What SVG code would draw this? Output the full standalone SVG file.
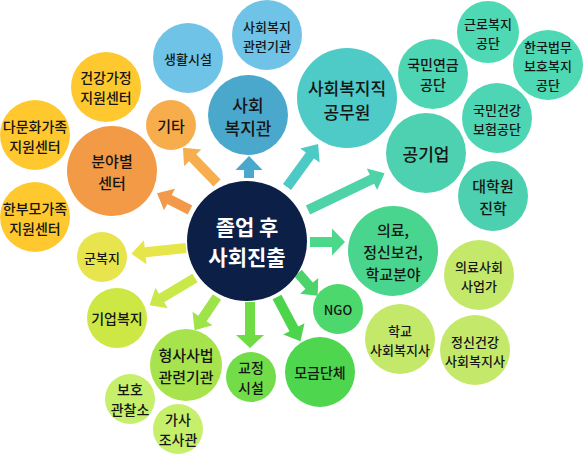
<svg xmlns="http://www.w3.org/2000/svg" width="584" height="454" viewBox="0 0 584 454">
<style>
text{font-family:"Noto Sans CJK KR","Noto Sans",sans-serif;font-weight:500;fill:#151515;text-anchor:middle;dominant-baseline:central}
.s13{font-size:13px}.s14{font-size:14px}.s15{font-size:15px}.s17{font-size:17px}
.c{font-size:21px;font-weight:bold;fill:#ffffff}
</style>
<rect width="584" height="454" fill="#ffffff"/>
<g id="connectors">
<path d="M0,-5H35V-12L49,0L35,12V5H0Z" fill="#f6ae4e" transform="translate(217,183) rotate(-134)"/>
<path d="M0,-5H23V-12L37,0L23,12V5H0Z" fill="#f29a4a" transform="translate(190,210) rotate(-153)"/>
<path d="M0,-5H8V-13.5L22,0L8,13.5V5H0Z" fill="#4aa8cc" transform="translate(249,178) rotate(-90)"/>
<path d="M0,-5H39V-12L53,0L39,12V5H0Z" fill="#4ecac6" transform="translate(287,187) rotate(-54)"/>
<path d="M0,-5H71V-12L85,0L71,12V5H0Z" fill="#4ed3a8" transform="translate(308,210) rotate(-25.7)"/>
<path d="M0,-5H22V-13.5L35,0L22,13.5V5H0Z" fill="#4cd88a" transform="translate(310,242)"/>
<path d="M0,-5H17V-12L30,0L17,12V5H0Z" fill="#4cd46a" transform="translate(298,273) rotate(49)"/>
<path d="M0,-5H36V-12L50,0L36,12V5H0Z" fill="#4cd44c" transform="translate(277,297) rotate(62)"/>
<path d="M0,-5H33V-14L46,0L33,14V5H0Z" fill="#6fdc44" transform="translate(250,302) rotate(90)"/>
<path d="M0,-5H26V-12L40,0L26,12V5H0Z" fill="#9ee34a" transform="translate(217,297) rotate(124)"/>
<path d="M0,-5H39V-12L53,0L39,12V5H0Z" fill="#c9e84a" transform="translate(195,278) rotate(149)"/>
<path d="M0,-5H41V-12L55,0L41,12V5H0Z" fill="#e6e54a" transform="translate(186,248) rotate(174)"/>
</g>
<g id="center"><circle cx="247" cy="241" r="60" fill="#0c1f46"/><text class="c" x="247" y="226">졸업 후</text><text class="c" x="247" y="256">사회진출</text></g>
<g id="n-saenghwal"><circle cx="188" cy="58" r="35" fill="#6ec3e6"/><text class="s13" x="188" y="58">생활시설</text></g>
<g id="n-gwallyeon"><circle cx="267" cy="35" r="35" fill="#6ec3e6"/><text class="s13" x="267" y="26">사회복지</text><text class="s13" x="267" y="45">관련기관</text></g>
<g id="n-bokjigwan"><circle cx="248" cy="115" r="40" fill="#4aa8cc"/><text class="s17" x="248" y="104">사회</text><text class="s17" x="248" y="127">복지관</text></g>
<g id="n-gita"><circle cx="171" cy="125" r="25" fill="#f8ad4c"/><text class="s15" x="171" y="125">기타</text></g>
<g id="n-geonganggajeong"><circle cx="106" cy="87" r="35" fill="#fec82e"/><text class="s14" x="106" y="77">건강가정</text><text class="s14" x="106" y="97">지원센터</text></g>
<g id="n-damunhwa"><circle cx="35" cy="135" r="35" fill="#fec82e"/><text class="s14" x="35" y="126">다문화가족</text><text class="s14" x="35" y="146">지원센터</text></g>
<g id="n-bunyabyeol"><circle cx="112" cy="171" r="45" fill="#f39a46"/><text class="s15" x="112" y="160">분야별</text><text class="s15" x="112" y="182">센터</text></g>
<g id="n-hanbumo"><circle cx="35" cy="217" r="35" fill="#fec82e"/><text class="s14" x="35" y="208">한부모가족</text><text class="s14" x="35" y="228">지원센터</text></g>
<g id="n-gunbokji"><circle cx="102" cy="257" r="25" fill="#e8e44e"/><text class="s13" x="102" y="257">군복지</text></g>
<g id="n-gieop"><circle cx="117" cy="318" r="30" fill="#cde845"/><text class="s14" x="117" y="318">기업복지</text></g>
<g id="n-hyeongsa"><circle cx="186" cy="365" r="36" fill="#a6e34c"/><text class="s15" x="186" y="354">형사사법</text><text class="s15" x="186" y="376">관련기관</text></g>
<g id="n-boho"><circle cx="130" cy="399" r="25" fill="#c6ef6c"/><text class="s14" x="130" y="389">보호</text><text class="s14" x="130" y="409">관찰소</text></g>
<g id="n-gasa"><circle cx="178" cy="429" r="25" fill="#c6ef6c"/><text class="s14" x="178" y="419">가사</text><text class="s14" x="178" y="439">조사관</text></g>
<g id="n-gyojeong"><circle cx="251" cy="377" r="25" fill="#72dd48"/><text class="s14" x="251" y="367">교정</text><text class="s14" x="251" y="387">시설</text></g>
<g id="n-mogeum"><circle cx="320" cy="372" r="35" fill="#4dd64e"/><text class="s14" x="320" y="372">모금단체</text></g>
<g id="n-ngo"><circle cx="338" cy="309" r="25" fill="#4cd86c"/><text class="s13" x="338" y="309">NGO</text></g>
<g id="n-uiryo"><circle cx="393" cy="251" r="45" fill="#49d58e"/><text class="s15" x="393" y="229">의료,</text><text class="s15" x="393" y="251">정신보건,</text><text class="s15" x="393" y="273">학교분야</text></g>
<g id="n-uiryosahoe"><circle cx="479" cy="275" r="35" fill="#c4e86a"/><text class="s13" x="479" y="266">의료사회</text><text class="s13" x="479" y="285">사업가</text></g>
<g id="n-hakgyo"><circle cx="400" cy="339" r="35" fill="#c4e86a"/><text class="s13" x="400" y="330">학교</text><text class="s13" x="400" y="349">사회복지사</text></g>
<g id="n-jeongsin"><circle cx="475" cy="350" r="35" fill="#c4e86a"/><text class="s13" x="475" y="341">정신건강</text><text class="s13" x="475" y="360">사회복지사</text></g>
<g id="n-gongmuwon"><circle cx="347" cy="98" r="50" fill="#4ecbc6"/><text class="s17" x="347" y="87">사회복지직</text><text class="s17" x="347" y="111">공무원</text></g>
<g id="n-gonggieop"><circle cx="426" cy="153" r="40" fill="#4dd1b0"/><text class="s17" x="426" y="153">공기업</text></g>
<g id="n-yeongeum"><circle cx="433" cy="74" r="35" fill="#4ed6b4"/><text class="s14" x="433" y="64">국민연금</text><text class="s14" x="433" y="84">공단</text></g>
<g id="n-geunro"><circle cx="488" cy="32" r="31" fill="#4ed9b4"/><text class="s13" x="488" y="23">근로복지</text><text class="s13" x="488" y="42">공단</text></g>
<g id="n-beommu"><circle cx="548" cy="65" r="35" fill="#4ed9b4"/><text class="s13" x="548" y="46">한국법무</text><text class="s13" x="548" y="65">보호복지</text><text class="s13" x="548" y="84">공단</text></g>
<g id="n-geongang"><circle cx="497" cy="118" r="35" fill="#4ed6b4"/><text class="s13" x="497" y="109">국민건강</text><text class="s13" x="497" y="128">보험공단</text></g>
<g id="n-daehagwon"><circle cx="493" cy="196" r="35" fill="#4dd0b0"/><text class="s15" x="493" y="185">대학원</text><text class="s15" x="493" y="207">진학</text></g>
</svg>
